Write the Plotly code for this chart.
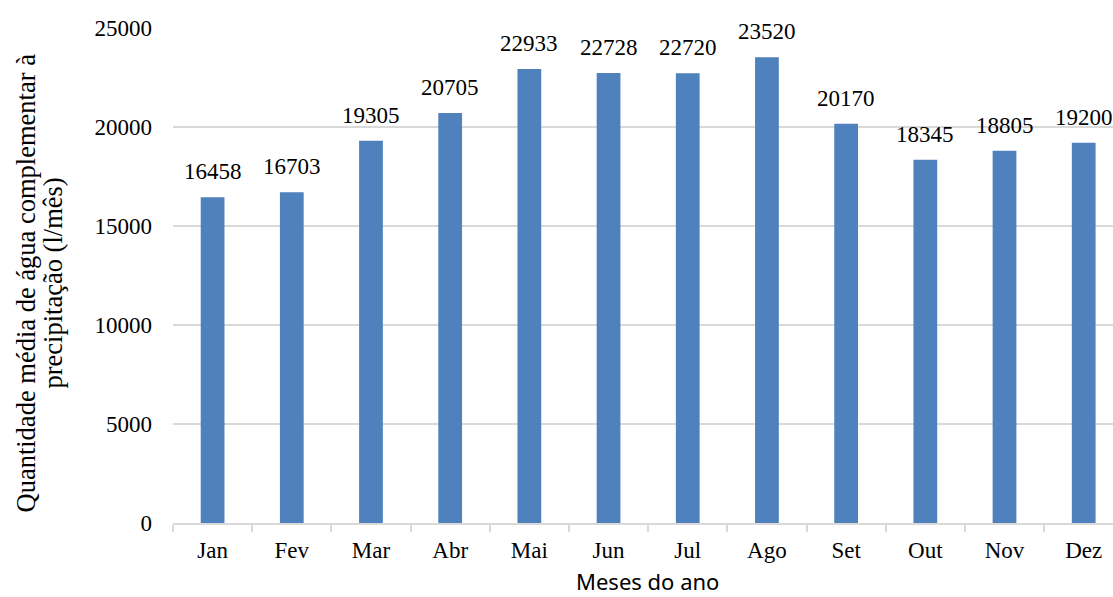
import plotly.graph_objects as go

# Monthly average complementary water volume (l/month)
months = ["Jan", "Fev", "Mar", "Abr", "Mai", "Jun", "Jul", "Ago", "Set", "Out", "Nov", "Dez"]
volumes = [16458, 16703, 19305, 20705, 22933, 22728, 22720, 23520, 20170, 18345, 18805, 19200]
y_ticks = [0, 5000, 10000, 15000, 20000, 25000]
y_title_lines = ["Quantidade média de água complementar à", "precipitação (l/mês)"]
x_title = "Meses do ano"

SERIF = "Liberation Serif, Times New Roman, serif"
GRID = "#d9d9d9"
BAR = "#4f81bd"
FS = 23

fig = go.Figure()
fig.add_trace(go.Bar(
    x=months, y=volumes, width=0.3,
    marker=dict(color=BAR, line=dict(width=0)),
    showlegend=False, hoverinfo="x+y",
))

# value labels above each bar
for m, v in zip(months, volumes):
    fig.add_annotation(
        x=m, y=v, xref="x", yref="y", text=str(v), showarrow=False,
        yanchor="bottom", yshift=11,
        font=dict(family=SERIF, size=FS, color="#000000"),
    )

# x axis title
fig.add_annotation(
    x=0.5053, y=-0.117, xref="paper", yref="paper", text=x_title,
    showarrow=False, xanchor="center", yanchor="middle", borderpad=0,
    font=dict(family="Noto Sans, Open Sans, sans-serif", size=22, color="#000000"),
)

# y axis title, two rotated lines
for line, shift in zip(y_title_lines, [-148, -121]):
    fig.add_annotation(
        x=0, y=0.5, xref="paper", yref="paper", text=line,
        showarrow=False, textangle=-90, xanchor="center", yanchor="middle",
        xshift=shift, yshift=-8,
        font=dict(family=SERIF, size=26.5, color="#000000"),
    )

fig.update_layout(
    width=1113, height=597,
    margin=dict(l=173, r=0, t=28, b=74),
    paper_bgcolor="white", plot_bgcolor="white",
    bargap=0.7,
)

fig.update_xaxes(
    type="category", range=[-0.5, 11.37],
    showline=True, linecolor=GRID, linewidth=1.5,
    ticks="outside", tickson="boundaries", ticklen=7, tickcolor=GRID, tickwidth=1.5,
    ticklabelstandoff=6,
    showgrid=False, zeroline=False,
    tickfont=dict(family=SERIF, size=FS, color="#000000"),
)

fig.update_yaxes(
    range=[0, 25000], tickvals=y_ticks, ticktext=[str(t) for t in y_ticks],
    showgrid=True, gridcolor=GRID, gridwidth=1.5,
    zeroline=False, showline=False, ticks="",
    ticklabelstandoff=20,
    tickfont=dict(family=SERIF, size=FS, color="#000000"),
)

fig.write_html("out.html")
